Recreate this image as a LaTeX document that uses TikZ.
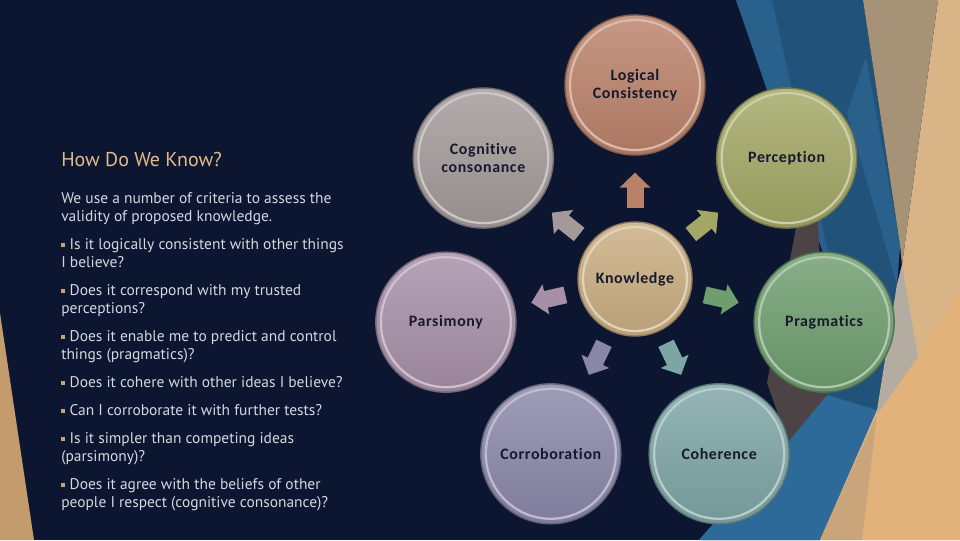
\documentclass[tikz,border=0pt]{standalone}
\usepackage{fontspec}
\setmainfont{PT Sans}
\newfontfamily\labelfont[LetterSpace=4,Ligatures=NoCommon]{Carlito}
\usetikzlibrary{arrows.meta,calc}

\definecolor{Cnavy}{HTML}{0C1631}
\definecolor{Cblue}{HTML}{21527A}
\definecolor{Cbluelight}{HTML}{2D6A99}
\definecolor{Cbluemid}{HTML}{29608C}
\definecolor{Cbrown}{HTML}{4B4345}
\definecolor{Ctangray}{HTML}{A69276}
\definecolor{Ctan}{HTML}{D8B487}
\definecolor{Corange}{HTML}{E2B27B}
\definecolor{Cstone}{HTML}{B4ACA1}
\definecolor{Cwedge}{HTML}{C49B6C}
\definecolor{Ctitle}{HTML}{E2BB88}
\definecolor{Cbody}{HTML}{D3D7DF}
\definecolor{Cbullet}{HTML}{C9A46F}
\definecolor{Clabel}{HTML}{161A2C}
\definecolor{Cknow}{HTML}{C9AD81}
\definecolor{Clogic}{HTML}{BA8169}
\definecolor{Cperc}{HTML}{A2A765}
\definecolor{Cprag}{HTML}{6E9D6E}
\definecolor{Ccoher}{HTML}{7DA5A4}
\definecolor{Ccorr}{HTML}{8A86A8}
\definecolor{Cpars}{HTML}{A68FA7}
\definecolor{Ccogn}{HTML}{A39999}

\tikzset{%
    Kbubble/.style={circle, inner sep=0pt, outer sep=0pt, align=center,
        top color=#1!82!white, bottom color=#1!92!black,
        draw=#1!72!black, line width=1pt, text=Clabel,
        font=\labelfont\bfseries\fontsize{11.3}{13}\selectfont},
    Kring/.style={draw=#1!55!white, line width=1.6pt},
    Karrow/.style={draw=#1, line width=0.425cm,
        -{Triangle[width=0.75cm,length=0.375cm]},
        shorten <=0.36cm, shorten >=0.44cm},
    Ktext/.style={anchor=base west, inner sep=0pt, text=Cbody,
        font=\fontsize{11}{13}\selectfont},
    Ktitle/.style={anchor=base west, inner sep=0pt, text=Ctitle,
        font=\fontsize{14.2}{16}\selectfont}
}
\newcommand{\Kbul}{{\color{Cbullet}\rule[0.3ex]{0.26em}{0.26em}}\hspace{0.28em}}

\begin{document}
\begin{tikzpicture}[x=0.025cm,y=0.025cm]
    \useasboundingbox (0,0) rectangle (960,-540);

    % background panels
    \fill[Cnavy] (0,0) rectangle (960,-540);
    \fill[Cwedge] (0,-313) -- (34,-540) -- (0,-540) -- cycle;
    \fill[Cblue] (736,0) -- (863,0) -- (900,-245) -- (897,-285) -- (877,-410)
        -- (820,-540) -- (699,-540) -- (827,-395) -- (830,-262) -- cycle;
    \fill[Cbluemid] (736,0) -- (772,0) -- (830,-262) -- (822,-250) -- cycle;
    \fill[Cbluemid] (866,-57) -- (900,-245) -- (897,-285) -- (847,-113) -- cycle;
    \fill[Cbluelight] (827,-395) -- (877,-410) -- (820,-540) -- (699,-540) -- cycle;
    \fill[Cbrown] (797,-222) -- (818,-222) -- (827,-395) -- (788,-442)
        -- (767,-383) -- cycle;
    \fill[Ctan] (938,0) -- (960,0) -- (960,-540) -- (820,-540) -- (877,-410)
        -- (897,-285) -- (902,-265) -- cycle;
    \fill[Ctangray] (863,0) -- (938,0) -- (902,-265) -- (900,-245) -- cycle;
    \fill[Cstone] (902,-265) -- (918,-357) -- (877,-415) -- (897,-285) -- cycle;
    \fill[Corange] (918,-357) -- (960,-290) -- (960,-540) -- (862,-540)
        -- (877,-415) -- cycle;
    \fill[Cwedge!90!white] (877,-415) -- (862,-540) -- (820,-540) -- cycle;

    % heading and bullet text
    \node[Ktitle] (title) at (61,-166) {How Do We Know?};
    \foreach \y/\txt [count=\i] in {
        203/{We use a number of criteria to assess the},
        221/{validity of proposed knowledge.},
        249/{\Kbul Is it logically consistent with other things},
        267/{I believe?},
        295/{\Kbul Does it correspond with my trusted},
        313/{perceptions?},
        341/{\Kbul Does it enable me to predict and control},
        359/{things (pragmatics)?},
        387/{\Kbul Does it cohere with other ideas I believe?},
        415/{\Kbul Can I corroborate it with further tests?},
        443/{\Kbul Is it simpler than competing ideas},
        461/{(parsimony)?},
        489/{\Kbul Does it agree with the beliefs of other},
        507/{people I respect  (cognitive consonance)?}}
        \node[Ktext] (line\i) at (61,-\y) {\txt};

    % hub and the seven criteria
    \node[Kbubble=Cknow, minimum size=2.85cm] (know) at (635,-279) {Knowledge};
    \draw[Kring=Cknow] (know.center) circle[radius=52];

    \foreach \nm/\txt/\col [count=\k from 0] in
            {logic/{Logical\\Consistency}/Clogic, perc/Perception/Cperc,
             prag/Pragmatics/Cprag,               coher/Coherence/Ccoher,
             corr/Corroboration/Ccorr,            pars/Parsimony/Cpars,
             cogn/{Cognitive\\consonance}/Ccogn}
    {
        \node[Kbubble=\col, minimum size=3.5cm] (\nm)
            at ($(know)+({90-\k*360/7}:194)$) {\txt};
        \draw[Kring=\col] (\nm.center) circle[radius=65];
        \draw[Karrow=\col] (know) -- (\nm);
    }
\end{tikzpicture}
\end{document}
